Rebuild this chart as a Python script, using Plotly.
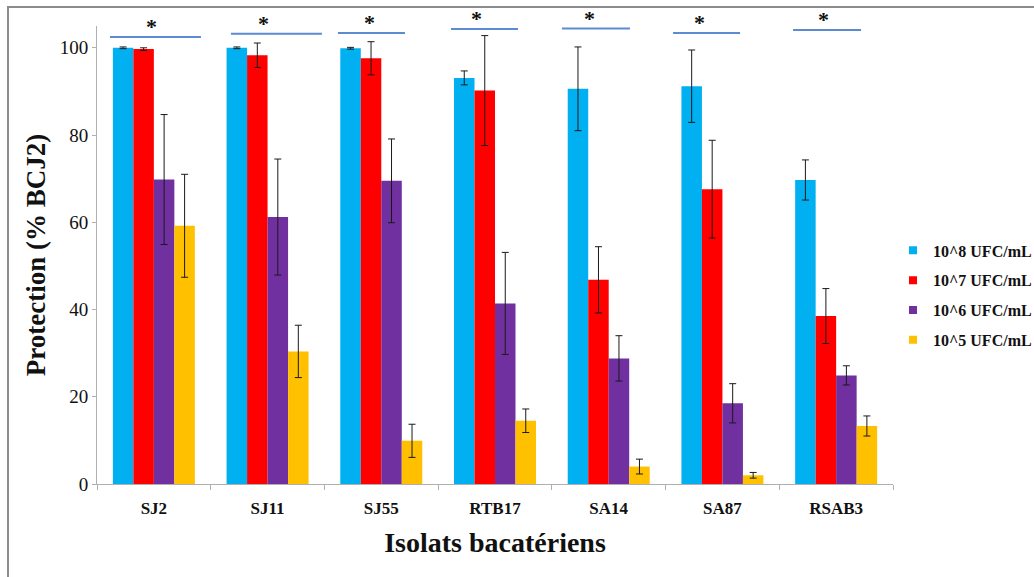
import plotly.graph_objects as go

# Isolates and inoculum doses
isolates = ["SJ2", "SJ11", "SJ55", "RTB17", "SA14", "SA87", "RSAB3"]
doses = ["10^8 UFC/mL", "10^7 UFC/mL", "10^6 UFC/mL", "10^5 UFC/mL"]
colors = ["#00B0F0", "#FF0000", "#7030A0", "#FFC000"]

# Mean protection (% BCJ2) per dose
prot_1e8 = [100.0, 100.0, 99.9, 93.1, 90.6, 91.2, 69.7]
prot_1e7 = [99.7, 98.3, 97.6, 90.2, 46.8, 67.6, 38.5]
prot_1e6 = [69.8, 61.2, 69.5, 41.4, 28.8, 18.5, 24.9]
prot_1e5 = [59.2, 30.4, 9.9, 14.5, 4.0, 2.0, 13.3]

# Standard deviations
sd_1e8 = [0.2, 0.2, 0.2, 1.6, 9.6, 8.3, 4.6]
sd_1e7 = [0.3, 2.8, 3.8, 12.6, 7.6, 11.2, 6.3]
sd_1e6 = [14.9, 13.3, 9.6, 11.7, 5.2, 4.5, 2.2]
sd_1e5 = [11.8, 6.0, 3.8, 2.7, 1.7, 0.65, 2.3]

means = [prot_1e8, prot_1e7, prot_1e6, prot_1e5]
sds = [sd_1e8, sd_1e7, sd_1e6, sd_1e5]

# Significance bars above each group: start/end offsets from the group centre,
# height on the y scale, and offset of the star
sig_start = [-0.386, -0.322, -0.381, -0.387, -0.411, -0.434, -0.379]
sig_end = [0.414, 0.478, 0.208, 0.202, 0.187, 0.155, 0.219]
sig_level = [102.5, 103.2, 103.4, 104.3, 104.4, 103.4, 104.1]
star_offset = [-0.017, -0.04, -0.108, -0.167, -0.173, -0.206, -0.115]

FONT = "Liberation Serif"
INK = "#111111"

fig = go.Figure()
for name, col, m, s in zip(doses, colors, means, sds):
    fig.add_trace(go.Bar(
        x=isolates, y=m, name=name,
        marker=dict(color=col, line=dict(width=0)),
        error_y=dict(type="data", array=s, visible=True,
                     color="#1a1a1a", thickness=1, width=3.5),
        showlegend=False,
    ))
    # small square legend key
    fig.add_trace(go.Scatter(
        x=[None], y=[None], mode="markers", name="<b>" + name + "</b>",
        marker=dict(symbol="square", size=8, color=col),
        legendgroup=name,
    ))

shapes = []
annotations = []
for i in range(len(isolates)):
    shapes.append(dict(
        type="line", xref="x", yref="y",
        x0=i + sig_start[i], x1=i + sig_end[i],
        y0=sig_level[i], y1=sig_level[i],
        line=dict(color="#5B8BD2", width=2),
    ))
    annotations.append(dict(
        x=i + star_offset[i], y=sig_level[i] - 0.9, xref="x", yref="y",
        text="<b>*</b>", showarrow=False, yanchor="bottom",
        font=dict(family=FONT, size=22, color=INK),
    ))

# outer chart frame
shapes.append(dict(
    type="rect", xref="paper", yref="paper",
    x0=-0.1118, x1=1.25, y0=-0.35, y1=1.0415,
    line=dict(color="#8C8C8C", width=2), layer="below",
))

fig.update_layout(
    width=1034, height=577,
    margin=dict(l=97, r=141, t=26, b=93, autoexpand=False),
    paper_bgcolor="white", plot_bgcolor="white",
    barmode="group", bargap=0.279, bargroupgap=0,
    font=dict(family=FONT, color=INK),
    shapes=shapes, annotations=annotations,
    legend=dict(
        x=1.0, y=0.547, xanchor="left", yanchor="top",
        font=dict(family=FONT, size=16, color=INK),
        tracegroupgap=6, itemsizing="trace",
        bgcolor="rgba(0,0,0,0)",
    ),
    xaxis=dict(
        type="category",
        showline=True, linecolor="#B0B0B0", linewidth=1,
        ticks="outside", ticklen=5, tickcolor="#B0B0B0",
        tickson="boundaries", ticklabelstandoff=9,
        tickfont=dict(family=FONT, size=17, color=INK),
        tickprefix="<b>", ticksuffix="</b>",
        title=dict(text="<b>Isolats bacatériens</b>", standoff=14,
                   font=dict(family=FONT, size=28, color=INK)),
        showgrid=False,
    ),
    yaxis=dict(
        range=[0, 105], tickvals=[0, 20, 40, 60, 80, 100],
        showline=True, linecolor="#B0B0B0", linewidth=1,
        ticks="outside", ticklen=4, tickcolor="#B0B0B0",
        tickfont=dict(family=FONT, size=19, color=INK),
        tickprefix="<b>", ticksuffix="</b>",
        title=dict(text="<b>Protection (% BCJ2)</b>", standoff=6,
                   font=dict(family=FONT, size=27, color=INK)),
        showgrid=False, zeroline=False,
    ),
)

fig.write_html("out.html")
